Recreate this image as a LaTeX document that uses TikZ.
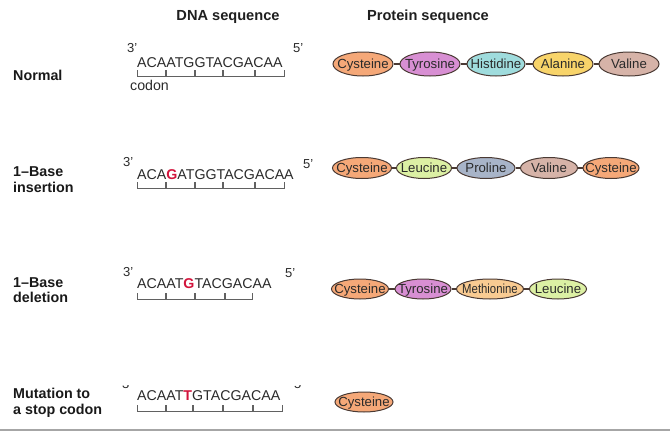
\documentclass[tikz,border=0pt]{standalone}
\usepackage{fontspec}
\setmainfont{Liberation Sans}
\usetikzlibrary{shapes.geometric}
\definecolor{cys}{HTML}{F5A878}
\definecolor{tyr}{HTML}{D88FD3}
\definecolor{his}{HTML}{9FDCDD}
\definecolor{ala}{HTML}{F8D46A}
\definecolor{val}{HTML}{D6B3A8}
\definecolor{leu}{HTML}{DCF0A4}
\definecolor{pro}{HTML}{A8B4C8}
\definecolor{met}{HTML}{F9CB92}
\definecolor{pline}{HTML}{4A3A34}
\definecolor{txt}{HTML}{2A2A2A}
\definecolor{mut}{HTML}{D2143C}
\newcommand{\ptxt}[1]{\makebox[0pt]{#1}}
\begin{document}
\begin{tikzpicture}[x=1pt,y=-1pt,
  hdr/.style={font=\fontsize{14.6}{16}\selectfont\bfseries, text=black!88, anchor=base, inner sep=0},
  rowlbl/.style={font=\fontsize{14.3}{16}\selectfont\bfseries, text=black!90, anchor=base west, inner sep=0},
  dna/.style={font=\fontsize{14.2}{16}\selectfont, text=txt, anchor=base west, inner sep=0},
  prime/.style={font=\fontsize{13}{14}\selectfont, text=txt, anchor=base west, inner sep=0},
  brk/.style={draw=black!62, line width=0.75pt},
  prot/.style={ellipse, draw=pline, line width=1pt, minimum width=58, minimum height=22, inner sep=0,
     text height=9.2pt, text depth=0pt,
     font=\fontsize{13.2}{14}\selectfont, text=txt},
  link/.style={draw=pline, line width=1.2pt}]
\useasboundingbox (0,0) rectangle (670,431);

% headers
\node[hdr] (h1) at (228,20) {DNA sequence};
\node[hdr] (h2) at (428,20) {Protein sequence};

% row labels
\node[rowlbl] (l1) at (13,80) {Normal};
\node[rowlbl] (l2a) at (13,176) {1–Base};
\node[rowlbl] (l2b) at (13,192) {insertion};
\node[rowlbl] (l3a) at (13,287) {1–Base};
\node[rowlbl] (l3b) at (13,302) {deletion};
\node[rowlbl] (l4a) at (13,398) {Mutation to};
\node[rowlbl] (l4b) at (13,414) {a stop codon};

% ---- row 1 DNA
\node[prime] (p1a) at (127,52) {3'};
\node[prime] (p1b) at (293,52) {5'};
\node[dna] (d1) at (137,67) {ACAATGGTACGACAA};
\foreach \a/\b in {137/166,166/195,195/223,223/255,255/285}
  \draw[brk] (\a+0.8,70) -- (\a+0.8,76) -- (\b-0.8,76) -- (\b-0.8,70);
\node[dna] (cod) at (130,90) {codon};

% ---- row 2 DNA
\node[prime] (p2a) at (123,166) {3'};
\node[prime] (p2b) at (303,168) {5'};
\node[dna] (d2) at (137,179) {ACA{\color{mut}\bfseries G}ATGGTACGACAA};
\foreach \a/\b in {137/166,166/195,195/223,223/255,255/285}
  \draw[brk] (\a+0.8,182) -- (\a+0.8,188) -- (\b-0.8,188) -- (\b-0.8,182);

% ---- row 3 DNA
\node[prime] (p3a) at (123,276) {3'};
\node[prime] (p3b) at (285,277) {5'};
\node[dna] (d3) at (137,288) {ACAAT{\color{mut}\bfseries G}TACGACAA};
\foreach \a/\b in {137/166,166/195,195/225,225/253}
  \draw[brk] (\a+0.8,293) -- (\a+0.8,299) -- (\b-0.8,299) -- (\b-0.8,293);

% ---- row 4 DNA
\begin{scope}
  \clip (100,385) rectangle (320,391);
  \node[prime] (p4a) at (122,388.5) {3'};
  \node[prime] (p4b) at (294,388.5) {5'};
\end{scope}
\node[dna] (d4) at (137,400) {ACAAT{\color{mut}\bfseries T}GTACGACAA};
\foreach \a/\b in {137/166,166/193,193/223,223/253,253/283}
  \draw[brk] (\a+0.8,405) -- (\a+0.8,411) -- (\b-0.8,411) -- (\b-0.8,405);

% ---- row 1 protein
\node[prot, fill=cys, minimum width=60, minimum height=24] (a1) at (363,64) {\ptxt{Cysteine}};
\node[prot, fill=tyr, minimum width=60, minimum height=24] (a2) at (430,64) {\ptxt{Tyrosine}};
\node[prot, fill=his, minimum width=58, minimum height=24] (a3) at (496,64) {\ptxt{Histidine}};
\node[prot, fill=ala, minimum width=60, minimum height=24] (a4) at (563,64) {\ptxt{Alanine}};
\node[prot, fill=val, minimum width=60, minimum height=24] (a5) at (629,64) {\ptxt{Valine}};
\draw[link] (a1.east) -- (a2.west);
\draw[link] (a2.east) -- (a3.west);
\draw[link] (a3.east) -- (a4.west);
\draw[link] (a4.east) -- (a5.west);

% ---- row 2 protein
\node[prot, fill=cys, minimum width=59, minimum height=21] (b1) at (362,168) {\ptxt{Cysteine}};
\node[prot, fill=leu, minimum width=55, minimum height=21] (b2) at (424,168) {\ptxt{Leucine}};
\node[prot, fill=pro, minimum width=58, minimum height=21] (b3) at (486,168) {\ptxt{Proline}};
\node[prot, fill=val, minimum width=57, minimum height=21] (b4) at (549,168) {\ptxt{Valine}};
\node[prot, fill=cys, minimum width=56, minimum height=21] (b5) at (611,168) {\ptxt{Cysteine}};
\draw[link] (b1.east) -- (b2.west);
\draw[link] (b2.east) -- (b3.west);
\draw[link] (b3.east) -- (b4.west);
\draw[link] (b4.east) -- (b5.west);

% ---- row 3 protein
\node[prot, fill=cys, minimum width=57, minimum height=20] (c1) at (360,289) {\ptxt{Cysteine}};
\node[prot, fill=tyr, minimum width=56, minimum height=20] (c2) at (423,289) {\ptxt{Tyrosine}};
\node[prot, fill=met, minimum width=67, minimum height=20] (c3) at (490,289) {\ptxt{\scalebox{0.86}[1]{Methionine}}};
\node[prot, fill=leu, minimum width=57, minimum height=20] (c4) at (558,289) {\ptxt{Leucine}};
\draw[link] (c1.east) -- (c2.west);
\draw[link] (c2.east) -- (c3.west);
\draw[link] (c3.east) -- (c4.west);

% ---- row 4 protein
\node[prot, fill=cys, minimum width=58, minimum height=20] (e1) at (364,402) {\ptxt{Cysteine}};

% bottom rule
\draw[draw=black!35, line width=1.5pt] (0,430) -- (670,430);
\end{tikzpicture}
\end{document}
